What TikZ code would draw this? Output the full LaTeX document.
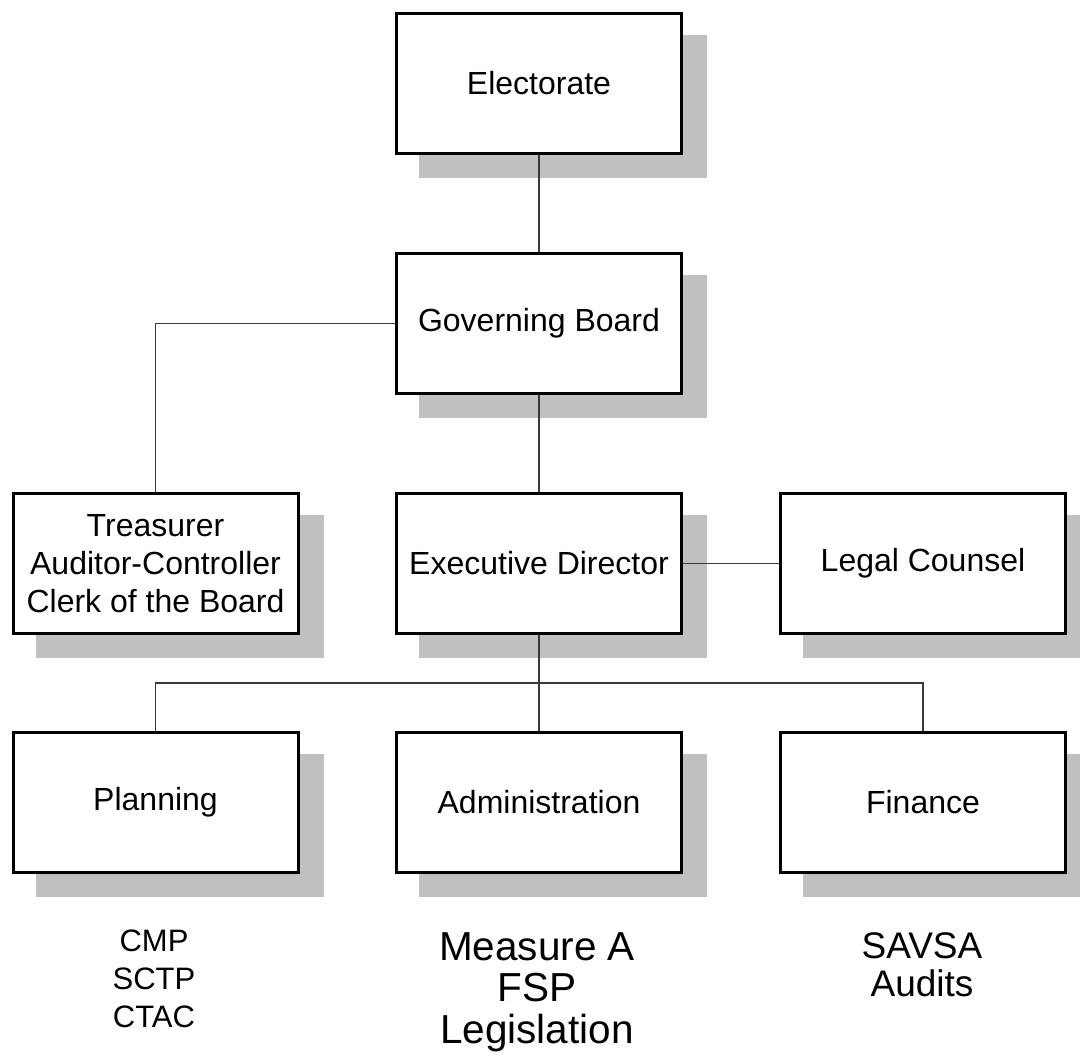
\documentclass[tikz,border=0pt]{standalone}
\usepackage{fontspec}
\setmainfont{Liberation Sans}
\definecolor{shadowgray}{HTML}{C0C0C0}
\definecolor{linkgray}{HTML}{3A3A3A}

\newcommand{\boxfont}{\fontsize{32}{38}\selectfont}
\newcommand{\orgbox}[4]{
	\pgfmathsetmacro{\OBx}{#2}
	\pgfmathsetmacro{\OBy}{#3}
	\fill[shadowgray] (\OBx-120, \OBy-48.5) rectangle (\OBx+168, \OBy+94.5);
	\node[orgnode] (#1) at (\OBx, \OBy) {#4};
}

\tikzset{
	orgnode/.style={draw, line width=3pt, fill=white, minimum width=285pt,
		minimum height=140pt, align=center, font=\boxfont},
	link/.style={draw=linkgray, line width=1.5pt},
	tasks/.style={anchor=north, inner sep=0pt, align=center}
}

\begin{document}
\begin{tikzpicture}[x=1pt, y=-1pt]
\useasboundingbox (0,0) rectangle (1080,1055);
\clip (0,0) rectangle (1080,1055);

\pgfmathsetmacro{\colL}{155.5}
\pgfmathsetmacro{\colM}{539}
\pgfmathsetmacro{\colR}{923}
\pgfmathsetmacro{\rowA}{83.5}
\pgfmathsetmacro{\rowB}{323.5}
\pgfmathsetmacro{\rowC}{563.5}
\pgfmathsetmacro{\rowD}{802.5}
\pgfmathsetmacro{\busY}{683}

\orgbox{elect}{\colM}{\rowA}{Electorate}
\orgbox{board}{\colM}{\rowB}{Governing Board}
\orgbox{treas}{\colL}{\rowC}{Treasurer\\Auditor-Controller\\Clerk of the Board}
\orgbox{exec}{\colM}{\rowC}{Executive Director}
\orgbox{legal}{\colR}{\rowC}{Legal Counsel}
\orgbox{plan}{\colL}{\rowD}{Planning}
\orgbox{admin}{\colM}{\rowD}{Administration}
\orgbox{fin}{\colR}{\rowD}{Finance}

\coordinate (bus) at (\colM, \busY);

\draw[link] (elect.south) -- (board.north);
\draw[link] (board.west) -| (treas.north);
\draw[link] (board.south) -- (exec.north);
\draw[link] (exec.east) -- (legal.west);
\draw[link] (exec.south) -- (bus) -- (admin.north);
\draw[link] (plan.north) |- (bus) -| (fin.north);

% duties under each department
\node[tasks, font=\fontsize{31}{38}\selectfont] (planTasks) at (154, 930) {CMP\\SCTP\\CTAC};
\node[tasks, font=\fontsize{40.5}{41.5}\selectfont] (adminTasks) at (537, 932) {Measure A\\FSP\\Legislation};
\node[tasks, font=\fontsize{37}{38}\selectfont] (finTasks) at (922, 932) {SAVSA\\Audits};
\end{tikzpicture}
\end{document}
